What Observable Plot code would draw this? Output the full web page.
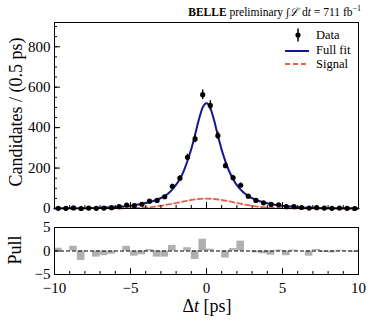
<!DOCTYPE html>
<html><head><meta charset="utf-8">
<script src="https://cdn.jsdelivr.net/npm/d3@7"></script>
<script src="https://cdn.jsdelivr.net/npm/@observablehq/plot@0.6"></script>
<style>
body{margin:0;background:#fff;}
#wrap{position:relative;width:373px;height:323px;font-family:"Liberation Serif",serif;color:#000;overflow:hidden;}
#main,#pull{position:absolute;left:0;}
#main{top:0;} #pull{top:213px;}
.ylab{position:absolute;transform:translate(-50%,-50%) rotate(-90deg);white-space:nowrap;font-size:18px;}
#xlab{position:absolute;left:207px;top:306px;transform:translate(-50%,-50%);font-size:18px;white-space:nowrap;}
#title{position:absolute;right:12px;top:4px;font-size:11.5px;white-space:nowrap;}
#title sup{font-size:8px;}
.lt{position:absolute;font-size:12.5px;transform:translateY(-50%);white-space:nowrap;}
.ls{position:absolute;}
</style></head><body>
<div id="wrap">
  <div id="main"></div>
  <div id="pull"></div>
  <div id="title"><b>BELLE</b> preliminary ∫<i>ℒ</i> d<i>t</i> = 711 fb<sup>−1</sup></div>
  <div class="ylab" style="left:16px;top:112px;">Candidates / (0.5 ps)</div>
  <div class="ylab" style="left:15px;top:250px;">Pull</div>
  <div id="xlab">Δ<i>t</i> [ps]</div>
  <svg class="ls" style="left:292px;top:28px" width="12" height="14"><line x1="6" x2="6" y1="0.5" y2="13.5" stroke="#000" stroke-width="1.5"/><circle cx="6" cy="7" r="2.6" fill="#000"/></svg>
  <div class="lt" style="left:316px;top:35px;">Data</div>
  <svg class="ls" style="left:285px;top:47px" width="24" height="8"><line x1="0" x2="24" y1="4" y2="4" stroke="#16168f" stroke-width="2"/></svg>
  <div class="lt" style="left:316px;top:50px;">Full fit</div>
  <svg class="ls" style="left:285px;top:60px" width="24" height="8"><line x1="0" x2="24" y1="4" y2="4" stroke="#e8604a" stroke-width="1.8" stroke-dasharray="5,3"/></svg>
  <div class="lt" style="left:316px;top:64px;">Signal</div>
</div>
<script>
// Bin centres (0.5 ps bins)
const binCenters = [-9.75,-9.25,-8.75,-8.25,-7.75,-7.25,-6.75,-6.25,-5.75,-5.25,-4.75,-4.25,-3.75,-3.25,-2.75,-2.25,-1.75,-1.25,-0.75,-0.25,
                    0.25,0.75,1.25,1.75,2.25,2.75,3.25,3.75,4.25,4.75,5.25,5.75,6.25,6.75,7.25,7.75,8.25,8.75,9.25,9.75];
const counts = [1,1,3,0,2,1,2,4,9,17,14,21,36,40,58,110,150,253,344,563,
                510,360,212,152,115,61,40,28,20,18,9,9,5,2,4,2,1,2,1,0];
const pulls = [0.6,0,1.0,-2.0,0,-1.3,-1.0,-0.7,0,1.0,-1.1,-0.8,0.3,-1.3,-1.3,1.2,0,0.7,-1.8,2.5,
               0.4,0,-1.5,0.5,2.1,0,-0.4,-0.6,-0.9,0.2,-1.0,0.2,0,-1.1,0.3,-0.3,-0.4,0.15,-0.1,-0.3];
// Full fit curve samples
const fitX = [-10,-9,-8,-7,-6,-5.5,-5,-4.5,-4,-3.5,-3,-2.75,-2.5,-2.25,-2,-1.75,-1.5,-1.25,-1,-0.75,-0.5,-0.25,0,
              0.25,0.5,0.75,1,1.25,1.5,1.75,2,2.25,2.5,2.75,3,3.5,4,4.5,5,5.5,6,7,8,9,10];
const fitY = [0.5,1,1.8,3.5,7,10,14,20,27,37,52,62,76,95,118,146,185,236,295,365,440,500,521,
              498,436,360,290,232,183,145,116,93,75,61,51,36,26,19,13.5,9.5,6.5,3.3,1.7,0.9,0.5];
// Signal curve samples
const sigX = [-10,-8,-7,-6,-5,-4.5,-4,-3.5,-3,-2.5,-2,-1.5,-1,-0.5,0,0.5,1,1.5,2,2.5,3,3.5,4,4.5,5,6,7,8,10];
const sigY = [0.05,0.2,0.4,0.8,2,3,5,8,13,20,27,35,42,47,49,47,42,35,27,20,13,8,5,3,2,0.8,0.4,0.2,0.05];
// Tick values
const yMajor = [0,200,400,600,800];
const yMinor = d3.range(0, 901, 50);
const xMajor = [-10,-5,0,5,10];
const xMinor = d3.range(-10, 11, 1);
const pullTicks = [-5,0,5];

const data = binCenters.map((x,i)=>({x, n:counts[i], pull:pulls[i]}));
const fit = fitX.map((x,i)=>({x, y:fitY[i]}));
const sig = sigX.map((x,i)=>({x, y:sigY[i]}));
const font = {fontFamily:"Liberation Serif", fontSize:"15px", background:"transparent", overflow:"visible"};
const blank = () => "";

const main = Plot.plot({
  width:373, height:213, marginLeft:54, marginRight:15, marginTop:22, marginBottom:5,
  style:font,
  x:{domain:[-10,10], axis:null, label:null},
  y:{domain:[0,920], axis:null, label:null},
  marks:[
    Plot.line(sig, {x:"x", y:"y", stroke:"#e8604a", strokeWidth:1.8, strokeDasharray:"5,3", curve:"monotone-x"}),
    Plot.line(fit, {x:"x", y:"y", stroke:"#16168f", strokeWidth:2, curve:"monotone-x"}),
    Plot.ruleX(data, {x:"x", y1:d=>Math.max(0,d.n-Math.sqrt(d.n)), y2:d=>d.n+Math.sqrt(d.n), stroke:"#000", strokeWidth:1.4}),
    Plot.dot(data, {x:"x", y:"n", r:2.6, fill:"#000"}),
    Plot.frame({stroke:"#000"}),
    Plot.axisY(yMajor, {tickSize:0, tickPadding:4, label:null, fontSize:15}),
    Plot.axisY(yMajor, {tickSize:-6, tickFormat:blank, label:null}),
    Plot.axisY(yMinor, {tickSize:-3, tickFormat:blank, label:null}),
    Plot.axisX(xMajor, {tickSize:-6, tickFormat:blank, label:null}),
    Plot.axisX(xMinor, {tickSize:-3, tickFormat:blank, label:null})
  ]
});
document.getElementById("main").appendChild(main);

const pull = Plot.plot({
  width:373, height:110, marginLeft:54, marginRight:15, marginTop:14, marginBottom:49,
  style:font,
  x:{domain:[-10,10], axis:null, label:null},
  y:{domain:[-5,5], axis:null, label:null},
  marks:[
    Plot.rectY(data, {x1:d=>d.x-0.25, x2:d=>d.x+0.25, y1:0, y2:"pull", fill:"#b0b0b0"}),
    Plot.ruleY([0], {stroke:"#000", strokeDasharray:"4,2"}),
    Plot.frame({stroke:"#000"}),
    Plot.axisY(pullTicks, {tickSize:0, tickPadding:4, label:null, fontSize:15}),
    Plot.axisY(pullTicks, {tickSize:-6, tickFormat:blank, label:null}),
    Plot.axisX(xMajor, {tickSize:0, tickPadding:8, label:null, fontSize:15}),
    Plot.axisX(xMajor, {tickSize:-6, tickFormat:blank, label:null}),
    Plot.axisX(xMinor, {tickSize:-3, tickFormat:blank, label:null})
  ]
});
document.getElementById("pull").appendChild(pull);
</script>
</body></html>
